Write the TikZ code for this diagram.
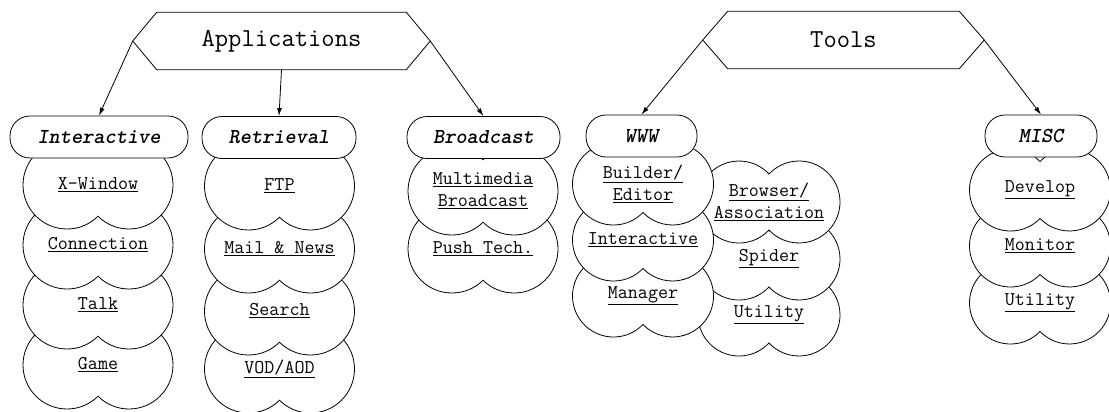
\documentclass[tikz,border=0pt]{standalone}
\usepackage{fontspec}
\usetikzlibrary{arrows.meta}

% bulb outline: union of two circles; #1 cx, #2 cy, #3 radius, #4 centre distance
\newcommand\bulbshape[4]{%
  \pgfmathsetmacro\bulbA{acos((#4)/(2*(#3)))}%
  \pgfmathsetmacro\bulbH{(#3)*sin(\bulbA)}%
  \draw[bulbline] (#1,{#2-\bulbH})
    arc[start angle={\bulbA-180}, end angle={180-\bulbA}, radius=#3]
    arc[start angle={\bulbA}, end angle={360-\bulbA}, radius=#3] -- cycle;
}

\begin{document}
\begin{tikzpicture}[x=0.75pt,y=-0.75pt,
  bulbline/.style={draw=black, fill=white, line width=0.6pt},
  itemtxt/.style={inner sep=0pt, align=center, font={\ttfamily\fontsize{14.6}{16.5}\selectfont}},
  header/.style={draw, fill=white, rounded corners=15pt, inner sep=0pt,
     minimum height=31.5pt, line width=0.6pt,
     font={\ttfamily\fontsize{16}{18}\selectfont\bfseries\itshape}},
  hexlabel/.style={inner sep=0pt, minimum height=42.75pt,
     font={\ttfamily\fontsize{19.4}{22}\selectfont}},
  hexline/.style={draw, line width=0.6pt},
  arr/.style={-{Latex[length=6pt,width=3.6pt]}, line width=0.6pt}]

\fill[white] (0,0) rectangle (1109,411);
\useasboundingbox (0,0) rectangle (1109,411);

% ---------- top level ----------
\node[hexlabel, minimum width=222.75pt] (app) at (281.5,41) {Applications};
\draw[hexline] (app.west) -- ([xshift=18pt]app.north west) -- ([xshift=-18pt]app.north east)
  -- (app.east) -- ([xshift=-18pt]app.south east) -- ([xshift=18pt]app.south west) -- cycle;

\node[hexlabel, minimum width=210.75pt] (tools) at (843.5,40) {Tools};
\draw[hexline] (tools.west) -- ([xshift=18.75pt]tools.north west) -- ([xshift=-18.75pt]tools.north east)
  -- (tools.east) -- ([xshift=-18.75pt]tools.south east) -- ([xshift=18.75pt]tools.south west) -- cycle;

% ---------- Interactive column ----------
\bulbshape{98}{365}{44}{62}
\node[itemtxt] (game) at (98,365) {\underline{Game}};
\bulbshape{98}{305}{44}{62}
\node[itemtxt] (talk) at (98,305) {\underline{Talk}};
\bulbshape{98}{245}{44}{62}
\node[itemtxt] (conn) at (98,245) {\underline{Connection}};
\bulbshape{98}{185}{44}{62}
\node[itemtxt] (xwin) at (98,185) {\underline{X-Window}};
\node[header, minimum width=133.5pt] (inter) at (99,137) {Interactive};

% ---------- Retrieval column ----------
\bulbshape{279.5}{369}{44}{62}
\node[itemtxt] (vod) at (279.5,369) {\underline{VOD/AOD}};
\bulbshape{279.5}{311}{44}{62}
\node[itemtxt] (search) at (279.5,311) {\underline{Search}};
\bulbshape{279.5}{249}{44}{62}
\node[itemtxt] (mail) at (279.5,249) {\underline{Mail \& News}};
\bulbshape{279.5}{186}{44}{62}
\node[itemtxt] (ftp) at (279.5,186) {\underline{FTP}};
\node[header, minimum width=115.5pt] (retr) at (279,137.5) {Retrieval};

% ---------- Broadcast column ----------
\bulbshape{483}{249}{44}{62}
\node[itemtxt] (push) at (483,249) {\underline{Push Tech.}};
\bulbshape{483}{191}{44}{62}
\node[itemtxt] (multi) at (483,191) {\underline{Multimedia}\\\underline{Broadcast}};
\node[header, minimum width=114.75pt] (bcast) at (483.5,137.5) {Broadcast};

% ---------- WWW column ----------
\bulbshape{769}{315}{41}{60}
\node[itemtxt] (wutil) at (769,315) {\underline{Utility}};
\bulbshape{769}{259}{41}{60}
\node[itemtxt] (spider) at (769,259) {\underline{Spider}};
\bulbshape{769}{202}{41}{60}
\node[itemtxt] (browser) at (769,202) {\underline{Browser/}\\\underline{Association}};

\bulbshape{643}{296}{41}{59}
\node[itemtxt] (manager) at (643,296) {\underline{Manager}};
\bulbshape{643}{240}{41}{59}
\node[itemtxt] (winter) at (643,240) {\underline{Interactive}};
\bulbshape{643}{184}{41}{59}
\node[itemtxt] (builder) at (643,184) {\underline{Builder/}\\\underline{Editor}};
\node[header, minimum width=83.25pt] (www) at (641.5,136) {WWW};

% ---------- MISC column ----------
\bulbshape{1040}{303}{41}{59}
\node[itemtxt] (mutil) at (1040,303) {\underline{Utility}};
\bulbshape{1040}{246}{41}{59}
\node[itemtxt] (monitor) at (1040,246) {\underline{Monitor}};
\bulbshape{1040}{190}{41}{59}
\node[itemtxt] (develop) at (1040,190) {\underline{Develop}};
\node[header, minimum width=84pt] (misc) at (1041,136) {MISC};

% ---------- connectors ----------
\draw[arr] (app.west) -- (inter.north);
\draw[arr] (app.south) -- (retr.north);
\draw[arr] (app.east) -- (bcast.north);
\draw[arr] (tools.west) -- (www.north);
\draw[arr] (tools.east) -- (misc.north);

\end{tikzpicture}
\end{document}
